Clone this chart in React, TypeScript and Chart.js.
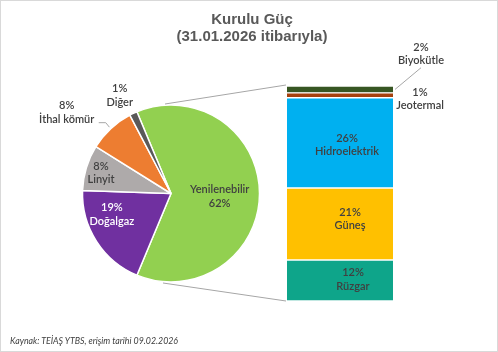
import React, { useEffect, useRef } from "react";
import { Chart, registerables } from "chart.js";

Chart.register(...registerables);

// ---- data ----
const pieLabels = ["Yenilenebilir", "Doğalgaz", "Linyit", "İthal kömür", "Diğer"];
const pieValues = [62.4, 19.2, 8.3, 8.4, 1.4];
const pieColors = ["#92D050", "#7030A0", "#AEAAAA", "#ED7D31", "#595959"];

const barLabels = ["Rüzgar", "Güneş", "Hidroelektrik", "Jeotermal", "Biyokütle"];
const barValues = [11.9, 20.9, 26.2, 1.4, 2.0];
const barColors = ["#0EA58A", "#FFC000", "#00B0F0", "#A5410E", "#375623"];

const titleLines = ["Kurulu Güç", "(31.01.2026 itibarıyla)"];
const sourceNote = "Kaynak: TEİAŞ YTBS, erişim tarihi 09.02.2026";

// ---- styling / label placement ----
const W = 498;
const H = 352;
const LABEL_FONT = "600 11px Lato";
const LABEL_COLOR = "#404040";
const LINE_COLOR = "#A6A6A6";
const LINE_GAP = 13.5;

const pieLabelSpec = [
  { f: 0.55, dx: 0, dy: 3, color: LABEL_COLOR },
  { f: 0.7, dx: -7, dy: -12.5, color: "#FFFFFF" },
  { f: 0.75, dx: -6.5, dy: -1, color: LABEL_COLOR },
  { f: 1.2, dx: -32, dy: -3, color: LABEL_COLOR },
  { f: 1.15, dx: -8, dy: -6, color: LABEL_COLOR },
];

// anchor: "c" = centre of segment, "r" = right edge of segment
const barLabelSpec = [
  { a: "c", dx: 13, dy: -1 },
  { a: "c", dx: 10, dy: -5 },
  { a: "c", dx: 7, dy: 2 },
  { a: "r", dx: 27, dy: 3.5 },
  { a: "r", dx: 28, dy: -35.7, leader: true },
];

function drawTwoLines(ctx: CanvasRenderingContext2D, l1: string, l2: string, x: number, y: number, color: string) {
  ctx.save();
  ctx.font = LABEL_FONT;
  ctx.fillStyle = color;
  ctx.textAlign = "center";
  ctx.textBaseline = "middle";
  ctx.fillText(l1, x, y - LINE_GAP / 2);
  ctx.fillText(l2, x, y + LINE_GAP / 2);
  ctx.restore();
}

export default function App() {
  const pieRef = useRef<HTMLCanvasElement>(null);
  const barRef = useRef<HTMLCanvasElement>(null);

  useEffect(() => {
    document.body.style.margin = "0";
    const pieTotal = pieValues.reduce((a, b) => a + b, 0);
    const barTotal = barValues.reduce((a, b) => a + b, 0);

    const pieLabelPlugin = {
      id: "pieLabelPlugin",
      afterDatasetsDraw(chart: any) {
        const ctx = chart.ctx as CanvasRenderingContext2D;
        const meta = chart.getDatasetMeta(0);
        meta.data.forEach((arc: any, i: number) => {
          const p = arc.getProps(["x", "y", "startAngle", "endAngle", "outerRadius"], true);
          const mid = (p.startAngle + p.endAngle) / 2;
          const s = pieLabelSpec[i];
          const px = p.x + Math.cos(mid) * p.outerRadius * s.f + s.dx;
          const py = p.y + Math.sin(mid) * p.outerRadius * s.f + s.dy;
          drawTwoLines(ctx, i === 0 ? pieLabels[i] : Math.round(pieValues[i]) + "%", i === 0 ? Math.round(pieValues[i]) + "%" : pieLabels[i], px, py, s.color);
          if (i === 3) {
            // leader line for İthal kömür
            ctx.save();
            ctx.strokeStyle = LINE_COLOR;
            ctx.lineWidth = 1;
            ctx.beginPath();
            const ex = p.x + Math.cos(mid) * (p.outerRadius + 2);
            const ey = p.y + Math.sin(mid) * (p.outerRadius + 2);
            ctx.moveTo(px + 32, py + 10);
            ctx.lineTo(px + 39, py + 10);
            ctx.lineTo(ex, ey);
            ctx.stroke();
            ctx.restore();
          }
        });
      },
    };

    const pieChart = new Chart(pieRef.current!, {
      type: "pie",
      data: {
        labels: pieLabels,
        datasets: [
          {
            data: pieValues,
            backgroundColor: pieColors,
            borderColor: "#FFFFFF",
            borderWidth: 1.5,
          },
        ],
      },
      options: {
        responsive: false,
        animation: false,
        devicePixelRatio: 1,
        rotation: 90 - (180 * pieValues[0]) / pieTotal,
        layout: { padding: { left: 81.75, right: 237.75, top: 104.25, bottom: 69.25 } },
        plugins: { legend: { display: false }, tooltip: { enabled: false }, title: { display: false } },
      },
      plugins: [pieLabelPlugin],
    });

    const barLabelPlugin = {
      id: "barLabelPlugin",
      afterDatasetsDraw(chart: any) {
        const ctx = chart.ctx as CanvasRenderingContext2D;
        // connector lines to the pie
        const arc: any = pieChart.getDatasetMeta(0).data[0];
        const pp = arc.getProps(["x", "y", "outerRadius"], true);
        const first: any = chart.getDatasetMeta(0).data[0];
        const last: any = chart.getDatasetMeta(barValues.length - 1).data[0];
        const fp = first.getProps(["x", "y", "base", "width"], true);
        const lp = last.getProps(["x", "y", "base", "width"], true);
        ctx.save();
        ctx.strokeStyle = LINE_COLOR;
        ctx.lineWidth = 1;
        ctx.beginPath();
        ctx.moveTo(pp.x - 6, pp.y - pp.outerRadius - 1);
        ctx.lineTo(lp.x - lp.width / 2 - 1, lp.y - 1);
        ctx.moveTo(pp.x - 8, pp.y + pp.outerRadius + 1);
        ctx.lineTo(fp.x - fp.width / 2 - 1, fp.base);
        ctx.stroke();
        ctx.restore();

        barValues.forEach((v, i) => {
          const el: any = chart.getDatasetMeta(i).data[0];
          const p = el.getProps(["x", "y", "base", "width"], true);
          const s = barLabelSpec[i];
          const ax = s.a === "c" ? p.x : p.x + p.width / 2;
          const ay = (p.y + p.base) / 2;
          const lx = ax + s.dx;
          const ly = ay + s.dy;
          drawTwoLines(ctx, Math.round(v) + "%", barLabels[i], lx, ly, LABEL_COLOR);
          if (s.leader) {
            ctx.save();
            ctx.strokeStyle = LINE_COLOR;
            ctx.lineWidth = 1;
            ctx.beginPath();
            ctx.moveTo(ax + 2, ay);
            ctx.lineTo(lx, ly + LINE_GAP + 0.5);
            ctx.stroke();
            ctx.restore();
          }
        });
      },
    };

    const barChart = new Chart(barRef.current!, {
      type: "bar",
      data: {
        labels: [""],
        datasets: barValues.map((v, i) => ({
          label: barLabels[i],
          data: [v],
          backgroundColor: barColors[i],
          borderColor: "#FFFFFF",
          borderWidth: { top: 1, bottom: 1, left: 0, right: 0 },
          borderSkipped: false,
          barPercentage: 1,
          categoryPercentage: 1,
          stack: "s",
        })),
      },
      options: {
        responsive: false,
        animation: false,
        devicePixelRatio: 1,
        layout: { padding: { left: 287, right: 105, top: 86, bottom: 51 } },
        scales: {
          x: { display: false, stacked: true },
          y: { display: false, stacked: true, min: 0, max: barTotal },
        },
        plugins: { legend: { display: false }, tooltip: { enabled: false }, title: { display: false } },
      },
      plugins: [barLabelPlugin],
    });

    return () => {
      barChart.destroy();
      pieChart.destroy();
    };
  }, []);

  return (
    <div style={{ position: "relative", width: W, height: H, background: "#FFFFFF", overflow: "hidden" }}>
      <canvas ref={pieRef} width={W} height={H} style={{ position: "absolute", left: 0, top: 0 }} />
      <canvas ref={barRef} width={W} height={H} style={{ position: "absolute", left: 0, top: 0 }} />
      <div
        style={{
          position: "absolute",
          left: 3,
          top: 10,
          width: W,
          textAlign: "center",
          font: "bold 15px 'Liberation Sans', Arial, sans-serif",
          lineHeight: "17px",
          color: "#595959",
        }}
      >
        {titleLines.map((t) => (
          <div key={t}>{t}</div>
        ))}
      </div>
      <div
        style={{
          position: "absolute",
          left: 10,
          top: 335,
          font: "italic 8.8px Lato, sans-serif",
          lineHeight: "11px",
          color: "#404040",
          whiteSpace: "nowrap",
        }}
      >
        {sourceNote}
      </div>
      <div
        style={{
          position: "absolute",
          left: 0,
          top: 0,
          width: W,
          height: H,
          boxSizing: "border-box",
          border: "1px solid #D9D9D9",
          pointerEvents: "none",
        }}
      />
    </div>
  );
}
